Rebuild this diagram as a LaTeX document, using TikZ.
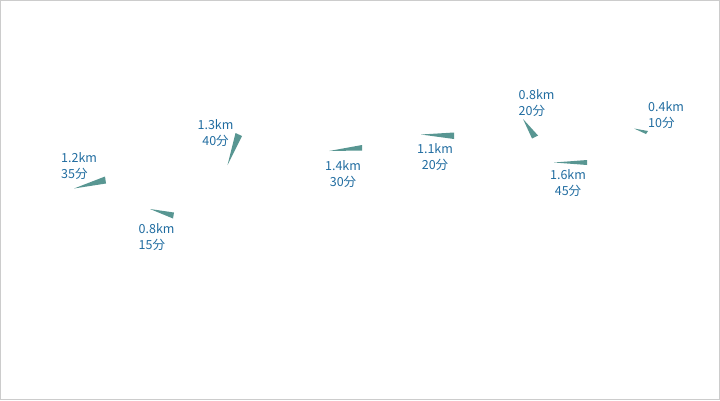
\documentclass[tikz,border=0pt]{standalone}
\usepackage{fontspec}
\setmainfont{Noto Sans CJK JP}
\definecolor{wedgec}{RGB}{88,150,146}
\definecolor{labelc}{RGB}{32,108,160}
\definecolor{framec}{RGB}{204,204,204}
\tikzset{
  lbl/.style={inner sep=0pt, text=labelc, font=\fontsize{12.5}{16}\selectfont},
  lblL/.style={lbl, align=left, anchor=base west},
  lblC/.style={lbl, align=center, anchor=base},
  wedge/.style={fill=wedgec, draw=none}
}
\begin{document}
\begin{tikzpicture}[x=1pt,y=-1pt]
\useasboundingbox (0,0) rectangle (720,400);
\draw[framec, line width=1pt] (0.5,0.5) rectangle (719.5,399.5);
% wedges
\fill[wedge] (74,188.5) -- (105,176.5) -- (106,183.5) -- cycle;
\fill[wedge] (150,209) -- (174,212.5) -- (173,218.5) -- cycle;
\fill[wedge] (227.5,165) -- (235.5,133) -- (242,136) -- cycle;
\fill[wedge] (329,151) -- (362,145) -- (362,150.5) -- cycle;
\fill[wedge] (421,134.5) -- (454,132.5) -- (454,139) -- cycle;
\fill[wedge] (523,119) -- (532,138.5) -- (538,135.5) -- cycle;
\fill[wedge] (634,128.5) -- (648,131) -- (646,134) -- cycle;
\fill[wedge] (554,162.5) -- (587,160) -- (587,165) -- cycle;
% labels (base anchor = baseline of last line)
\node[lblL] (l1) at (61,178) {1.2km\\35分};
\node[lblL] (l2) at (138.5,249) {0.8km\\15分};
\node[lblC] (l3) at (215.5,145) {1.3km\\40分};
\node[lblC] (l4) at (343,186.5) {1.4km\\30分};
\node[lblC] (l5) at (435,169) {1.1km\\20分};
\node[lblL] (l6) at (518.5,115.5) {0.8km\\20分};
\node[lblL] (l7) at (648,127.5) {0.4km\\10分};
\node[lblC] (l8) at (568,195.5) {1.6km\\45分};
\end{tikzpicture}
\end{document}
